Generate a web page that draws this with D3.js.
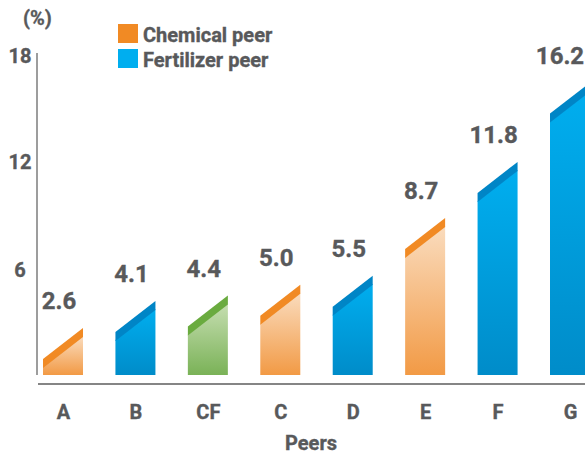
<!DOCTYPE html>
<html>
<head>
<meta charset="utf-8">
<script src="https://cdn.jsdelivr.net/npm/d3@7"></script>
<style>
  html, body { margin: 0; padding: 0; background: #fff; }
  svg { display: block; font-family: Roboto, "Noto Sans", sans-serif; font-weight: 700; }
  svg text { stroke: #58595B; stroke-width: 0.35px; }
</style>
</head>
<body>
<svg id="chart" width="585" height="455"></svg>
<script>
// ---- data ----
const categories = ["A", "B", "CF", "C", "D", "E", "F", "G"];
const values     = [2.6, 4.1, 4.4, 5.0, 5.5, 8.7, 11.8, 16.2];
const peerTypes  = ["chemical", "fertilizer", "combined", "chemical", "fertilizer", "chemical", "fertilizer", "fertilizer"];
const yTicks     = [6, 12, 18];
const legendLabels = ["Chemical peer", "Fertilizer peer"];
const legendTypes  = ["chemical", "fertilizer"];
const xTitle = "Peers";
const yUnit = "(%)";

// ---- styles ----
const textColor = "#58595B";
const palette = {
  chemical:   { stripe: "#F18A24", top: "#FADCBE", bottom: "#F29A45", legend: "#F18A24" },
  fertilizer: { stripe: "#0085C6", top: "#00AEEF", bottom: "#008CC9", legend: "#00AEEF" },
  combined:   { stripe: "#6AAB3F", top: "#C6DEB1", bottom: "#7AB257", legend: "#6AAB3F" }
};

const svg = d3.select("#chart");
const defs = svg.append("defs");
Object.entries(palette).forEach(([k, c]) => {
  const g = defs.append("linearGradient").attr("id", "grad-" + k)
    .attr("x1", 0).attr("y1", 0).attr("x2", 0).attr("y2", 1);
  g.append("stop").attr("offset", "0").attr("stop-color", c.top);
  g.append("stop").attr("offset", "1").attr("stop-color", c.bottom);
});

const x = d3.scalePoint().domain(categories).range([63, 570]);
const y = d3.scaleLinear().domain([0, 18]).range([375, 50]);
const barW = 40, slant = 31, stripeH = 9;

const data = categories.map((c, i) => ({ cat: c, v: values[i], type: peerTypes[i] }));

// y axis
const yAxis = svg.append("g").attr("transform", "translate(37,0)")
  .call(d3.axisLeft(y).tickValues(yTicks).tickSize(0).tickSizeOuter(0));
yAxis.select(".domain").attr("stroke", "#7d7d7d").attr("stroke-width", 1.5)
  .attr("d", `M0,${y(18) + 3}V${y(0)}`);
yAxis.selectAll(".tick text")
  .attr("x", -17).attr("dy", "0.36em").attr("dx", 0)
  .attr("text-anchor", "middle")
  .attr("fill", textColor).attr("font-size", 20).attr("font-weight", 700)
  .attr("font-family", "Roboto, sans-serif")
  .attr("transform", d => `translate(0,${d === 18 ? 5 : 3})`);

// x axis
const xAxis = svg.append("g").attr("transform", "translate(0,384)")
  .call(d3.axisBottom(x).tickSize(0).tickSizeOuter(0));
xAxis.select(".domain").attr("stroke", "#858585").attr("stroke-width", 2)
  .attr("d", "M38,0H585");
xAxis.selectAll(".tick text")
  .attr("y", 35).attr("dy", 0)
  .attr("fill", textColor).attr("font-size", 20).attr("font-weight", 700)
  .attr("font-family", "Roboto, sans-serif");

// bars
const bars = svg.append("g").selectAll("g.bar").data(data).join("g").attr("class", "bar");
bars.append("path")
  .attr("fill", d => `url(#grad-${d.type})`)
  .attr("d", d => {
    const x0 = x(d.cat) - barW / 2, x1 = x(d.cat) + barW / 2, yv = y(d.v), yb = y(0);
    return `M${x0},${yb}L${x0},${yv + slant + stripeH - 1}L${x1},${yv + stripeH - 1}L${x1},${yb}Z`;
  });
bars.append("path")
  .attr("fill", d => palette[d.type].stripe)
  .attr("d", d => {
    const x0 = x(d.cat) - barW / 2, x1 = x(d.cat) + barW / 2, yv = y(d.v);
    return `M${x0},${yv + slant}L${x1},${yv}L${x1},${yv + stripeH}L${x0},${yv + slant + stripeH}Z`;
  });

// value labels
svg.append("g").selectAll("text").data(data).join("text")
  .attr("x", d => Math.min(x(d.cat) - 4, 560))
  .attr("y", d => y(d.v) - 19)
  .attr("text-anchor", "middle")
  .attr("fill", textColor).attr("font-size", 24)
  .text(d => d.v.toFixed(1));

// axis titles
svg.append("text").attr("x", 311).attr("y", 450).attr("text-anchor", "middle")
  .attr("fill", textColor).attr("font-size", 20).text(xTitle);
svg.append("text").attr("x", 37.5).attr("y", 25).attr("text-anchor", "middle")
  .attr("fill", textColor).attr("font-size", 20).text(yUnit);

// legend
const leg = svg.append("g").selectAll("g").data(legendLabels).join("g")
  .attr("transform", (d, i) => `translate(118,${24 + i * 25})`);
leg.append("rect").attr("width", 20).attr("height", 19)
  .attr("fill", (d, i) => palette[legendTypes[i]].legend);
leg.append("text").attr("x", 25).attr("y", 18)
  .attr("fill", textColor).attr("font-size", 20).text(d => d);
</script>
</body>
</html>
